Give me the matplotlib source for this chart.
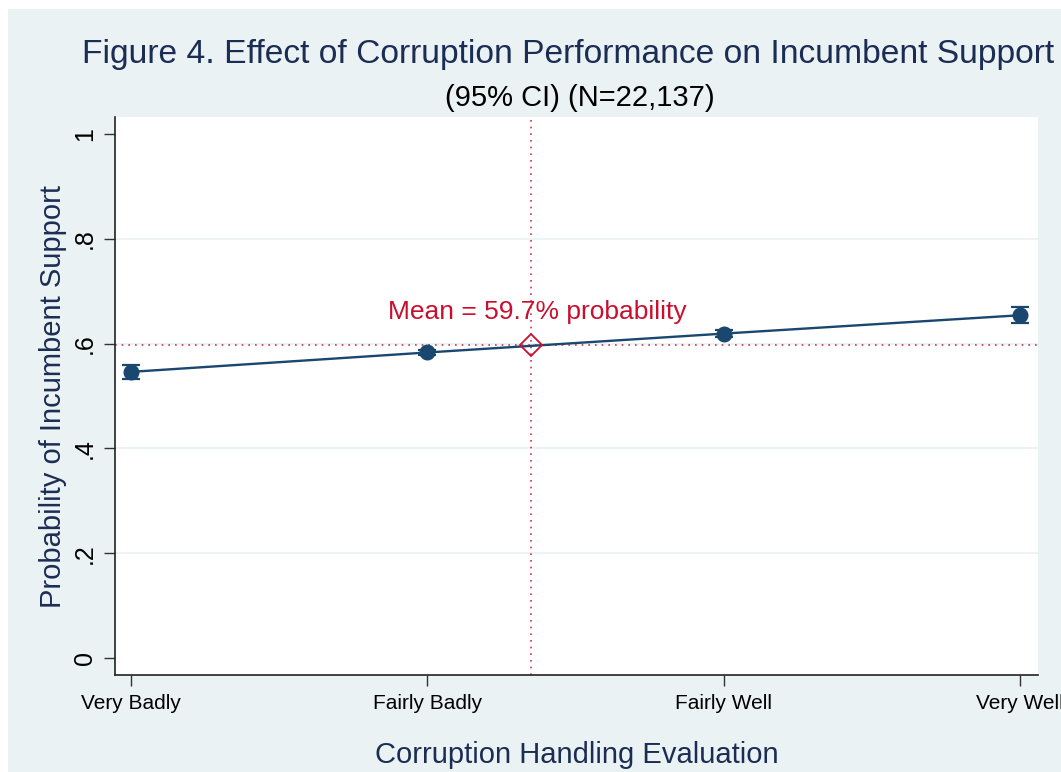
import matplotlib
matplotlib.use("Agg")
import matplotlib.pyplot as plt
from matplotlib.patches import Rectangle

# ---- data ----
categories = ["Very Badly", "Fairly Badly", "Fairly Well", "Very Well"]
probabilities = [0.546, 0.583, 0.619, 0.654]
ci_halfwidth = [0.014, 0.005, 0.006, 0.015]
mean_x = 2.35
mean_prob = 0.597
mean_label = "Mean = 59.7% probability"
y_ticks = [0, 0.2, 0.4, 0.6, 0.8, 1.0]
y_tick_labels = ["0", ".2", ".4", ".6", ".8", "1"]
grid_levels = [0.2, 0.4, 0.6, 0.8]
title = "Figure 4. Effect of Corruption Performance on Incumbent Support"
subtitle = "(95% CI) (N=22,137)"
x_title = "Corruption Handling Evaluation"
y_title = "Probability of Incumbent Support"

NAVY = "#1a476f"
TXTNAVY = "#1c2d55"
CRIMSON = "#c8102e"
BG = "#eaf2f3"

plt.rcParams['font.family'] = ['Liberation Sans', 'DejaVu Sans']

W, H = 1061, 772
fig = plt.figure(figsize=(W / 100, H / 100), dpi=100)
fig.patch.set_facecolor("white")
fig.add_artist(Rectangle((8 / W, 0), 1, 1 - 9 / H, transform=fig.transFigure,
                         facecolor=BG, edgecolor="none", zorder=0))

left, right, top, bottom = 115, 1038, 117, 675
ax = fig.add_axes([left / W, 1 - bottom / H, (right - left) / W, (bottom - top) / H])
ax.set_facecolor("white")

xs = list(range(1, len(categories) + 1))
ax.set_xlim(0.946, 4.06)
ax.set_ylim(-0.032, 1.032)

for g in grid_levels:
    ax.axhline(g, color=BG, lw=1.3, zorder=1)

ax.axhline(mean_prob, color=CRIMSON, lw=1.2, ls=(0, (1, 3)), alpha=0.85, zorder=2)
ax.axvline(mean_x, color=CRIMSON, lw=1.2, ls=(0, (1, 3)), alpha=0.85, zorder=2)

ax.plot(xs, probabilities, color=NAVY, lw=1.7, zorder=3)
ax.errorbar(xs, probabilities, yerr=ci_halfwidth, fmt="o", color=NAVY,
            markersize=10.5, elinewidth=1.5, capsize=6.5, capthick=1.6, zorder=4)
ax.plot([mean_x], [mean_prob], marker="D", markersize=11, markerfacecolor="none",
        markeredgecolor=CRIMSON, markeredgewidth=1.3, zorder=5)
ax.text(mean_x + 0.02, 0.661, mean_label, color=CRIMSON, fontsize=19,
        ha="center", va="center", zorder=5)

ax.set_xticks(xs)
ax.set_xticklabels(categories, fontsize=15)
ax.set_yticks(y_ticks)
ax.set_yticklabels(y_tick_labels, fontsize=18, rotation=90, va="center")
ax.tick_params(axis="both", direction="out", length=8, width=1.0, color="#333333")
ax.tick_params(axis="x", pad=6)
ax.tick_params(axis="y", pad=5)

for s in ["top", "right"]:
    ax.spines[s].set_visible(False)
for s in ["left", "bottom"]:
    ax.spines[s].set_color("#222222")
    ax.spines[s].set_linewidth(1.2)

ax.set_ylabel(y_title, fontsize=21, color=TXTNAVY, labelpad=4)
ax.set_xlabel(x_title, fontsize=21, color=TXTNAVY, labelpad=20)

fig.text(568 / W, 1 - 55 / H, title, fontsize=24.2, color=TXTNAVY, ha="center", va="center")
fig.text(580 / W, 1 - 98 / H, subtitle, fontsize=21, color="black", ha="center", va="center")

fig.savefig("out.png", dpi=100, facecolor=fig.get_facecolor())
